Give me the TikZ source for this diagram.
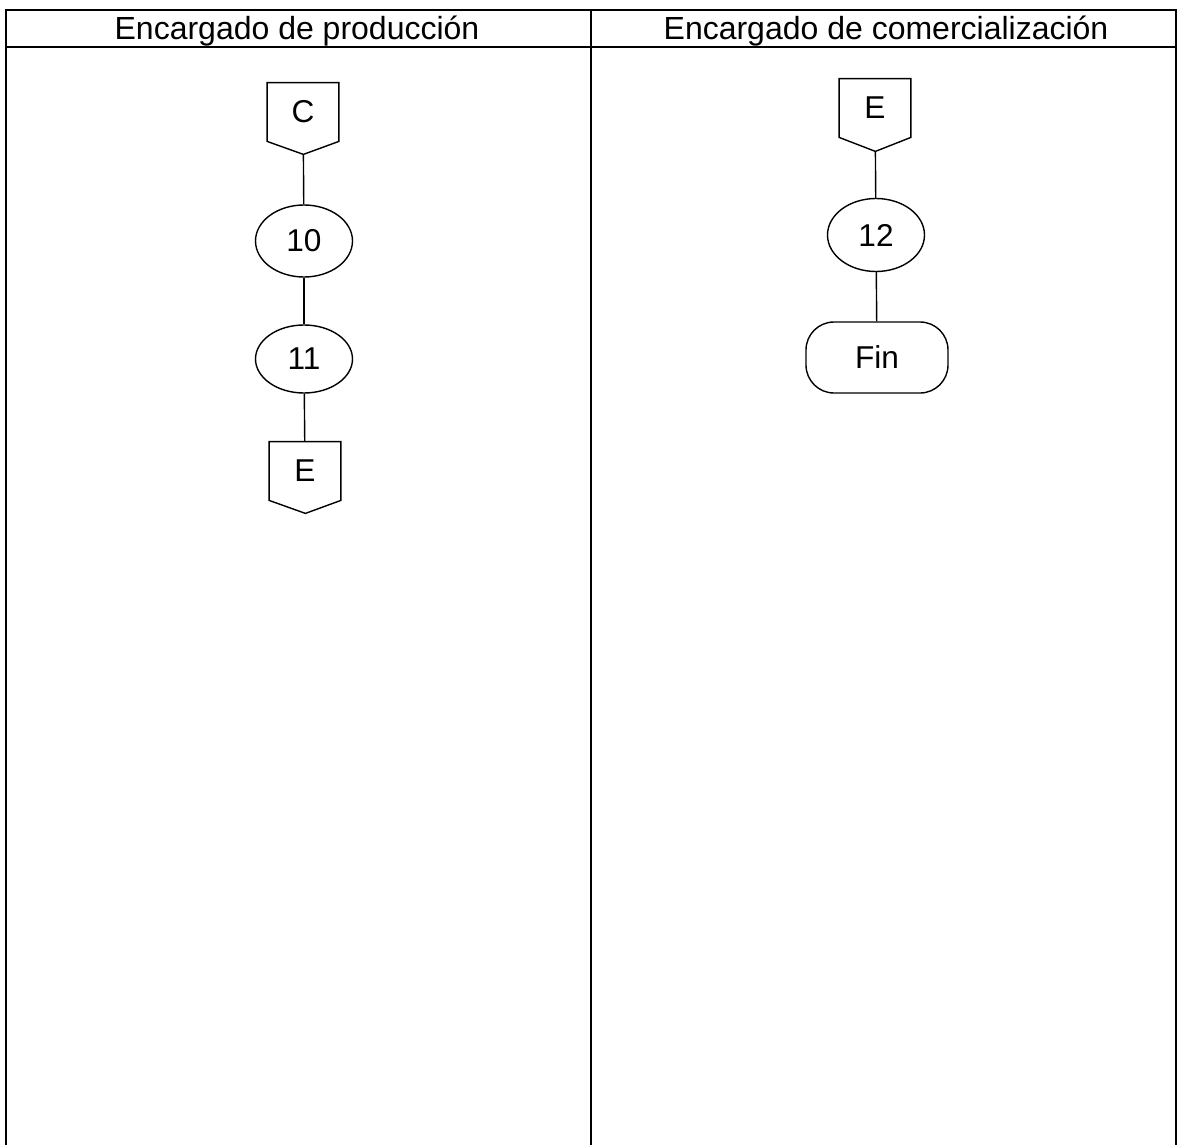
\documentclass[tikz,border=0pt]{standalone}
\usepackage{fontspec}
\setmainfont{Liberation Sans}
\usepackage{tikz}
\usetikzlibrary{shapes.geometric, positioning}

\newcommand{\headfont}{\fontsize{16}{19}\selectfont}
\newcommand{\boxfont}{\fontsize{15.8}{18}\selectfont}

\tikzset{
    lane/.style={line width=1.2pt},
    link/.style={line width=0.7pt},
    opnode/.style={ellipse, draw, line width=0.7pt, inner sep=0pt, font=\boxfont},
    connbox/.style={rectangle, inner sep=0pt, minimum width=35.5pt, minimum height=29pt, font=\boxfont},
    endbox/.style={rectangle, draw, line width=0.7pt, rounded corners=14pt, inner sep=0pt,
        minimum width=71pt, minimum height=35.5pt, font=\boxfont}
}

\begin{document}
\begin{tikzpicture}[x=0.5pt, y=-0.5pt]
    \useasboundingbox (0,0) rectangle (1178,1145);

    % lanes
    \draw[lane] (6,1145) -- (6,10) -- (1176,10) -- (1176,1145);
    \draw[lane] (6,47) -- (1176,47);
    \draw[lane] (591,10) -- (591,1145);
    \node[anchor=base, font=\headfont] (prodhead) at (297,40) {Encargado de producción};
    \node[anchor=base, font=\headfont] (comhead) at (886,40) {Encargado de comercialización};

    % produccion
    \node[connbox] (conC) at (303,112) {C};
    \draw[link] (conC.north west) -- (conC.north east) -- (conC.south east)
        -- ++(-35.5,13) coordinate (conCtip) -- (conC.south west) -- cycle;
    \node[opnode, minimum width=48.5pt, minimum height=36pt] (op10) at (304,241) {10};
    \node[opnode, minimum width=48.5pt, minimum height=34pt] (op11) at (304,359) {11};
    \node[connbox] (conE) at (305,471) {E};
    \draw[link] (conE.north west) -- (conE.north east) -- (conE.south east)
        -- ++(-35.5,13) coordinate (conEtip) -- (conE.south west) -- cycle;

    \draw[link] (conCtip) -- (op10);
    \draw[link] (op10) -- (op11);
    \draw[link] (op11) -- (conE);

    % comercializacion
    \node[connbox] (conE2) at (875,108) {E};
    \draw[link] (conE2.north west) -- (conE2.north east) -- (conE2.south east)
        -- ++(-35.5,14) coordinate (conE2tip) -- (conE2.south west) -- cycle;
    \node[opnode, minimum width=48.5pt, minimum height=36.5pt] (op12) at (876,235) {12};
    \node[endbox] (fin) at (877,357.5) {Fin};

    \draw[link] (conE2tip) -- (op12);
    \draw[link] (op12) -- (fin);
\end{tikzpicture}
\end{document}
